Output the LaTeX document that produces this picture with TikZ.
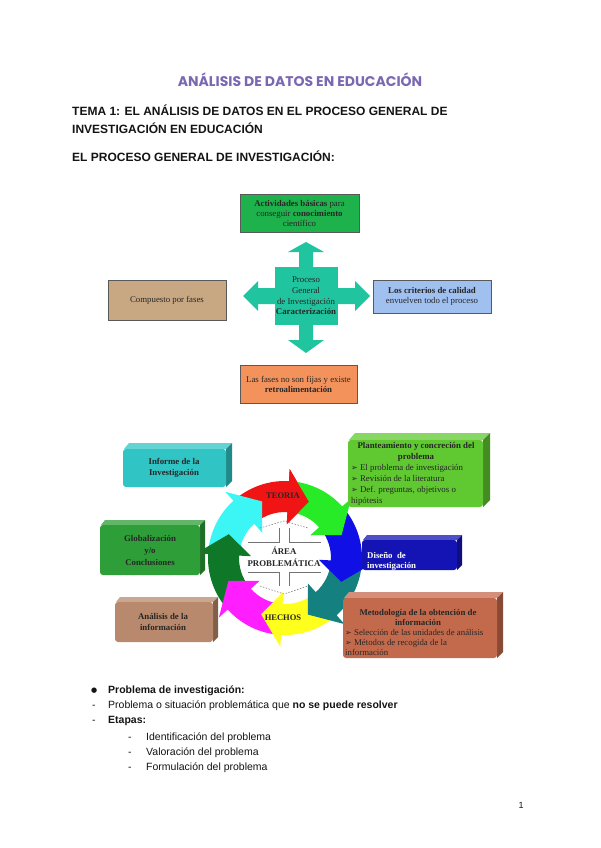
\documentclass[tikz,border=0pt]{standalone}
\usepackage{fontspec}
\setmainfont{Liberation Serif}
\newfontfamily\arialf{Liberation Sans}
\newfontfamily\titlef{Poppins}
\newfontfamily\symf{DejaVu Sans}
\usetikzlibrary{calc}
\definecolor{titlepurple}{RGB}{122,104,178}
\definecolor{pagetext}{RGB}{20,20,20}
\definecolor{boxgreen}{RGB}{30,178,76}
\definecolor{boxtan}{RGB}{200,168,130}
\definecolor{boxblue}{RGB}{160,192,240}
\definecolor{boxorange}{RGB}{244,146,92}
\definecolor{crossteal}{RGB}{32,196,158}
\definecolor{ringred}{RGB}{240,20,20}
\definecolor{ringgreen}{RGB}{40,235,40}
\definecolor{ringblue}{RGB}{15,15,230}
\definecolor{ringteal}{RGB}{20,128,128}
\definecolor{ringyellow}{RGB}{255,255,30}
\definecolor{ringmag}{RGB}{255,30,255}
\definecolor{ringdkgreen}{RGB}{15,120,40}
\definecolor{ringcyan}{RGB}{60,245,245}
\definecolor{informecol}{RGB}{48,196,196}
\definecolor{plantecol}{RGB}{96,200,48}
\definecolor{globcol}{RGB}{46,158,56}
\definecolor{disenocol}{RGB}{20,20,180}
\definecolor{analcol}{RGB}{184,137,108}
\definecolor{metodcol}{RGB}{196,106,76}
% 3D box: #1 x1, #2 y1, #3 x2, #4 y2, #5 colour, #6 depth
\newcommand{\threedbox}[6]{%
  \fill[#5!75!white] (#1+1,#2) -- (#1+#6,#2-#6) -- (#3+#6,#2-#6) -- (#3,#2) -- cycle;
  \fill[#5!70!black] (#3,#2) -- (#3+#6,#2-#6) -- (#3+#6,#4-#6) -- (#3,#4) -- cycle;
  \fill[#5, rounded corners=3pt] (#1,#2) rectangle (#3,#4);}
% ring arrow: #1 tip angle, #2 colour
\newcommand{\ringarrow}[2]{%
  \fill[#2] (#1+62:77) arc[start angle=#1+62, end angle=#1+20, radius=77]
    -- (#1+20:89) -- (#1:61) -- (#1+20:34) -- (#1+20:46)
    arc[start angle=#1+20, end angle=#1+62, radius=46] -- cycle;}
\newcommand{\ringhead}[2]{%
  \fill[#2] (#1+20:89) -- (#1:61) -- (#1+20:34) -- cycle;}
\tikzset{
  flatbox/.style={draw=black!65, line width=0.5pt, inner sep=1pt, align=center,
    font=\fontsize{8.8}{10}\selectfont, text=black!85},
  dtext/.style={inner sep=0pt, align=center, font=\fontsize{8.8}{10.5}\selectfont, text=black!85},
  ltext/.style={inner sep=0pt, anchor=base west, font=\fontsize{8.8}{10.5}\selectfont, text=black!85},
  ctext/.style={inner sep=0pt, anchor=base, font=\fontsize{8.8}{10.5}\selectfont, text=black!85},
  pagebold/.style={inner sep=0pt, anchor=base west, font=\arialf\bfseries\fontsize{12}{14}\selectfont, text=pagetext},
  listtext/.style={inner sep=0pt, anchor=base west, font=\arialf\fontsize{10.5}{12}\selectfont, text=pagetext},
  innerline/.style={draw=black!55, line width=0.5pt},
  innerdash/.style={draw=black!55, line width=0.5pt, dashed, dash pattern=on 1.5pt off 1.5pt}
}
\newcommand{\arrowbullet}{{\symf\fontsize{8}{8}\selectfont ➢}}
\begin{document}
\begin{tikzpicture}[x=1pt,y=-1pt]
\useasboundingbox (0,0) rectangle (600,848);
\fill[white] (0,0) rectangle (600,848);

% page headings
\node[inner sep=0pt, anchor=base, font=\titlef\bfseries\fontsize{14}{16}\selectfont, text=titlepurple] (title) at (300,87) {ANÁLISIS DE DATOS EN EDUCACIÓN};
\node[pagebold] (tema1) at (72,116) {TEMA 1: EL ANÁLISIS DE DATOS EN EL PROCESO GENERAL DE};
\node[pagebold] (tema2) at (72,133) {INVESTIGACIÓN EN EDUCACIÓN};
\node[pagebold] (procgen) at (72,161) {EL PROCESO GENERAL DE INVESTIGACIÓN:};

% ---------- top diagram ----------
\fill[crossteal] (275,267) rectangle (338,325);
\fill[crossteal] (299,267) -- (299,252) -- (288,252) -- (306,242) -- (324,252) -- (313,252) -- (313,267) -- cycle;
\fill[crossteal] (299,325) -- (299,340) -- (288,340) -- (306,353) -- (324,340) -- (313,340) -- (313,325) -- cycle;
\fill[crossteal] (275,288) -- (258,288) -- (258,281) -- (243,296) -- (258,311) -- (258,304) -- (275,304) -- cycle;
\fill[crossteal] (338,288) -- (355,288) -- (355,281) -- (370,296) -- (355,311) -- (355,304) -- (338,304) -- cycle;
\node[dtext, font=\fontsize{8.8}{10.7}\selectfont] (proceso) at (306,296) {Proceso\\General\\de Investigación\\\textbf{Caracterización}};

\node[flatbox, fill=boxgreen, minimum width=119pt, minimum height=38pt] (activ) at (299.5,213)
  {\textbf{Actividades básicas} para\\conseguir \textbf{conocimiento}\\científico};
\node[flatbox, fill=boxtan, minimum width=118pt, minimum height=40pt] (compuesto) at (167,300)
  {Compuesto por fases};
\node[flatbox, fill=boxblue, minimum width=118pt, minimum height=33pt] (criterios) at (432,296.5)
  {\textbf{Los criterios de calidad}\\envuelven todo el proceso};
\node[flatbox, fill=boxorange, minimum width=117pt, minimum height=38pt] (fases) at (298.5,384)
  {Las fases no son fijas y existe\\\textbf{retroalimentación}};

% ---------- lower diagram: ring ----------
\begin{scope}[shift={(285,558)}, y=1pt]
  \ringarrow{67}{ringred}
  \ringarrow{112}{ringcyan}
  \ringarrow{157}{ringdkgreen}
  \ringarrow{-158}{ringmag}
  \ringarrow{-113}{ringyellow}
  \ringarrow{-68}{ringteal}
  \ringarrow{-23}{ringblue}
  \ringarrow{22}{ringgreen}
  \ringhead{67}{ringred}
\end{scope}

% inner up-down shape
\draw[innerline] (248,542) -- (279,542) -- (279,528);
\draw[innerline] (321,542) -- (289,542) -- (289,528);
\draw[innerline] (248,572) -- (279,572) -- (279,586);
\draw[innerline] (321,572) -- (289,572) -- (289,586);
\draw[innerdash] (260,528) -- (284,521) -- (308,528);
\draw[innerdash] (260,586) -- (284,594) -- (308,586);
\node[ctext, font=\bfseries\fontsize{8.8}{10}\selectfont] (area1) at (284,554) {ÁREA};
\node[ctext, font=\bfseries\fontsize{8.8}{10}\selectfont] (area2) at (284,566) {PROBLEMÁTICA};
\node[ctext, font=\bfseries\fontsize{8.5}{10}\selectfont] (teoria) at (283,498) {TEORIA};
\node[ctext, font=\bfseries\fontsize{8.5}{10}\selectfont] (hechos) at (283,620) {HECHOS};

% ---------- lower diagram: boxes ----------
\threedbox{123}{449}{226}{487}{informecol}{6}
\node[dtext, font=\bfseries\fontsize{8.8}{10.5}\selectfont] (informe) at (174,468) {Informe de la\\Investigación};

\threedbox{348}{440}{483}{507}{plantecol}{7}
\node[ctext, font=\bfseries\fontsize{8.8}{10}\selectfont] (plant1) at (416,448) {Planteamiento y concreción del};
\node[ctext, font=\bfseries\fontsize{8.8}{10}\selectfont] (plant2) at (416,459) {problema};
\node[ltext] (plant3) at (351,470) {\arrowbullet\ El problema de investigación};
\node[ltext] (plant4) at (351,481) {\arrowbullet\ Revisión de la literatura};
\node[ltext] (plant5) at (351,492) {\arrowbullet\ Def. preguntas, objetivos o};
\node[ltext] (plant6) at (351,503) {hipótesis};

\threedbox{100}{525}{200}{575}{globcol}{5}
\node[dtext, font=\bfseries\fontsize{8.8}{12}\selectfont] (glob) at (150,550) {Globalización\\y/o\\Conclusiones};

\threedbox{362}{540}{457}{570}{disenocol}{5}
\node[ltext, text=white, font=\bfseries\fontsize{8.8}{10}\selectfont] (dis1) at (367,558) {Diseño\ \ de};
\node[ltext, text=white, font=\bfseries\fontsize{8.8}{10}\selectfont] (dis2) at (367,568) {investigación};

\threedbox{115}{602}{213}{642}{analcol}{5}
\node[dtext, font=\bfseries\fontsize{8.8}{11}\selectfont] (anal) at (163,622) {Análisis de la\\información};

\threedbox{343}{598}{497}{658}{metodcol}{6}
\node[ctext, font=\bfseries\fontsize{8.8}{10}\selectfont] (met1) at (418,615) {Metodología de la obtención de};
\node[ctext, font=\bfseries\fontsize{8.8}{10}\selectfont] (met2) at (418,625) {información};
\node[ltext] (met3) at (345,635) {\arrowbullet\ Selección de las unidades de análisis};
\node[ltext] (met4) at (345,645) {\arrowbullet\ Métodos de recogida de la};
\node[ltext] (met5) at (345,655) {información};

% ---------- list ----------
\node[inner sep=0pt, anchor=base west, font=\symf\fontsize{7}{8}\selectfont, text=pagetext] (bul) at (91,692) {●};
\node[listtext, font=\arialf\bfseries\fontsize{10.5}{12}\selectfont] (li1) at (108,693) {Problema de investigación:};
\node[listtext] (da1) at (92,708) {-};
\node[listtext] (li2) at (108,708) {Problema o situación problemática que \textbf{no se puede resolver}};
\node[listtext] (da2) at (92,723) {-};
\node[listtext, font=\arialf\bfseries\fontsize{10.5}{12}\selectfont] (li3) at (108,723) {Etapas:};
\node[listtext] (da3) at (128,740) {-};
\node[listtext] (li4) at (146,740) {Identificación del problema};
\node[listtext] (da4) at (128,755) {-};
\node[listtext] (li5) at (146,755) {Valoración del problema};
\node[listtext] (da5) at (128,770) {-};
\node[listtext] (li6) at (146,770) {Formulación del problema};
\node[inner sep=0pt, anchor=base, font=\arialf\fontsize{9}{10}\selectfont, text=pagetext] (pnum) at (521,808) {1};
\end{tikzpicture}
\end{document}
